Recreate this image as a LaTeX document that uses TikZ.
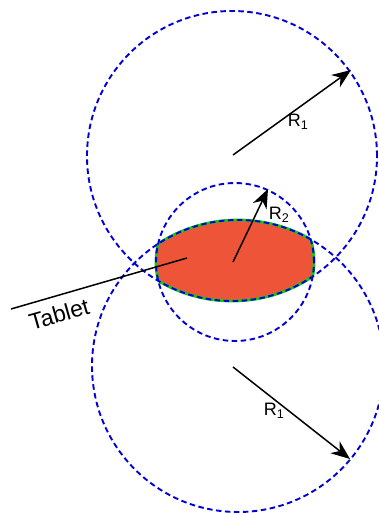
\documentclass[tikz,border=0pt]{standalone}
\usepackage{fontspec}
\setmainfont{Liberation Sans}
\usetikzlibrary{arrows.meta}
\definecolor{tabred}{RGB}{238,85,56}
\definecolor{tabgreen}{RGB}{20,200,20}
\definecolor{circblue}{RGB}{0,0,215}
\tikzset{
  dashcirc/.style={draw=circblue, line width=1.9pt, dash pattern=on 5.5pt off 3.5pt},
  radarrow/.style={draw=black, line width=1.5pt, -{Stealth[length=19pt,width=15pt,inset=6pt]}},
  rlabel/.style={font=\fontsize{18}{20}\selectfont, inner sep=0pt},
  outline/.style={draw=tabgreen, line width=2.8pt}
}
\begin{document}
\begin{tikzpicture}[x=1pt,y=-1pt]
\useasboundingbox (0,0) rectangle (379,513);
\clip (0,0) rectangle (379,513);
% centres
\coordinate (T) at (232,156);
\coordinate (B) at (238,366);
\coordinate (S) at (235,262);
% tablet fill
\begin{scope}
  \clip (T) circle[radius=145pt];
  \clip (B) circle[radius=146pt];
  \fill[tabred] (S) circle[radius=79pt];
\end{scope}
% tablet outline
\begin{scope}
  \clip (B) circle[radius=146pt];
  \clip (S) circle[radius=79pt];
  \draw[outline] (T) circle[radius=145pt];
\end{scope}
\begin{scope}
  \clip (T) circle[radius=145pt];
  \clip (S) circle[radius=79pt];
  \draw[outline] (B) circle[radius=146pt];
\end{scope}
\begin{scope}
  \clip (T) circle[radius=145pt];
  \clip (B) circle[radius=146pt];
  \draw[outline] (S) circle[radius=79pt];
\end{scope}
% dashed circles
\draw[dashcirc] (T) circle[radius=145pt];
\draw[dashcirc] (B) circle[radius=146pt];
\draw[dashcirc] (S) circle[radius=79pt];
% radius arrows
\coordinate (ta0) at (233,155);
\coordinate (ta1) at (351,70);
\coordinate (ba0) at (233,367);
\coordinate (ba1) at (350,459);
\coordinate (sa0) at (233,262);
\coordinate (sa1) at (268,189);
\draw[radarrow] (ta0) -- (ta1);
\draw[radarrow] (ba0) -- (ba1);
\draw[radarrow] (sa0) -- (sa1);
\node[rlabel] (r1top) at (298,122) {R\textsubscript{1}};
\node[rlabel] (r1bot) at (274,411) {R\textsubscript{1}};
\node[rlabel] (r2) at (279,215) {R\textsubscript{2}};
% tablet pointer
\coordinate (p0) at (11,309);
\coordinate (p1) at (187,258);
\draw[line width=1.5pt] (p0) -- (p1);
\node[font=\fontsize{23}{26}\selectfont, rotate=16, inner sep=0pt] (tab) at (59,314) {Tablet};
\end{tikzpicture}
\end{document}
